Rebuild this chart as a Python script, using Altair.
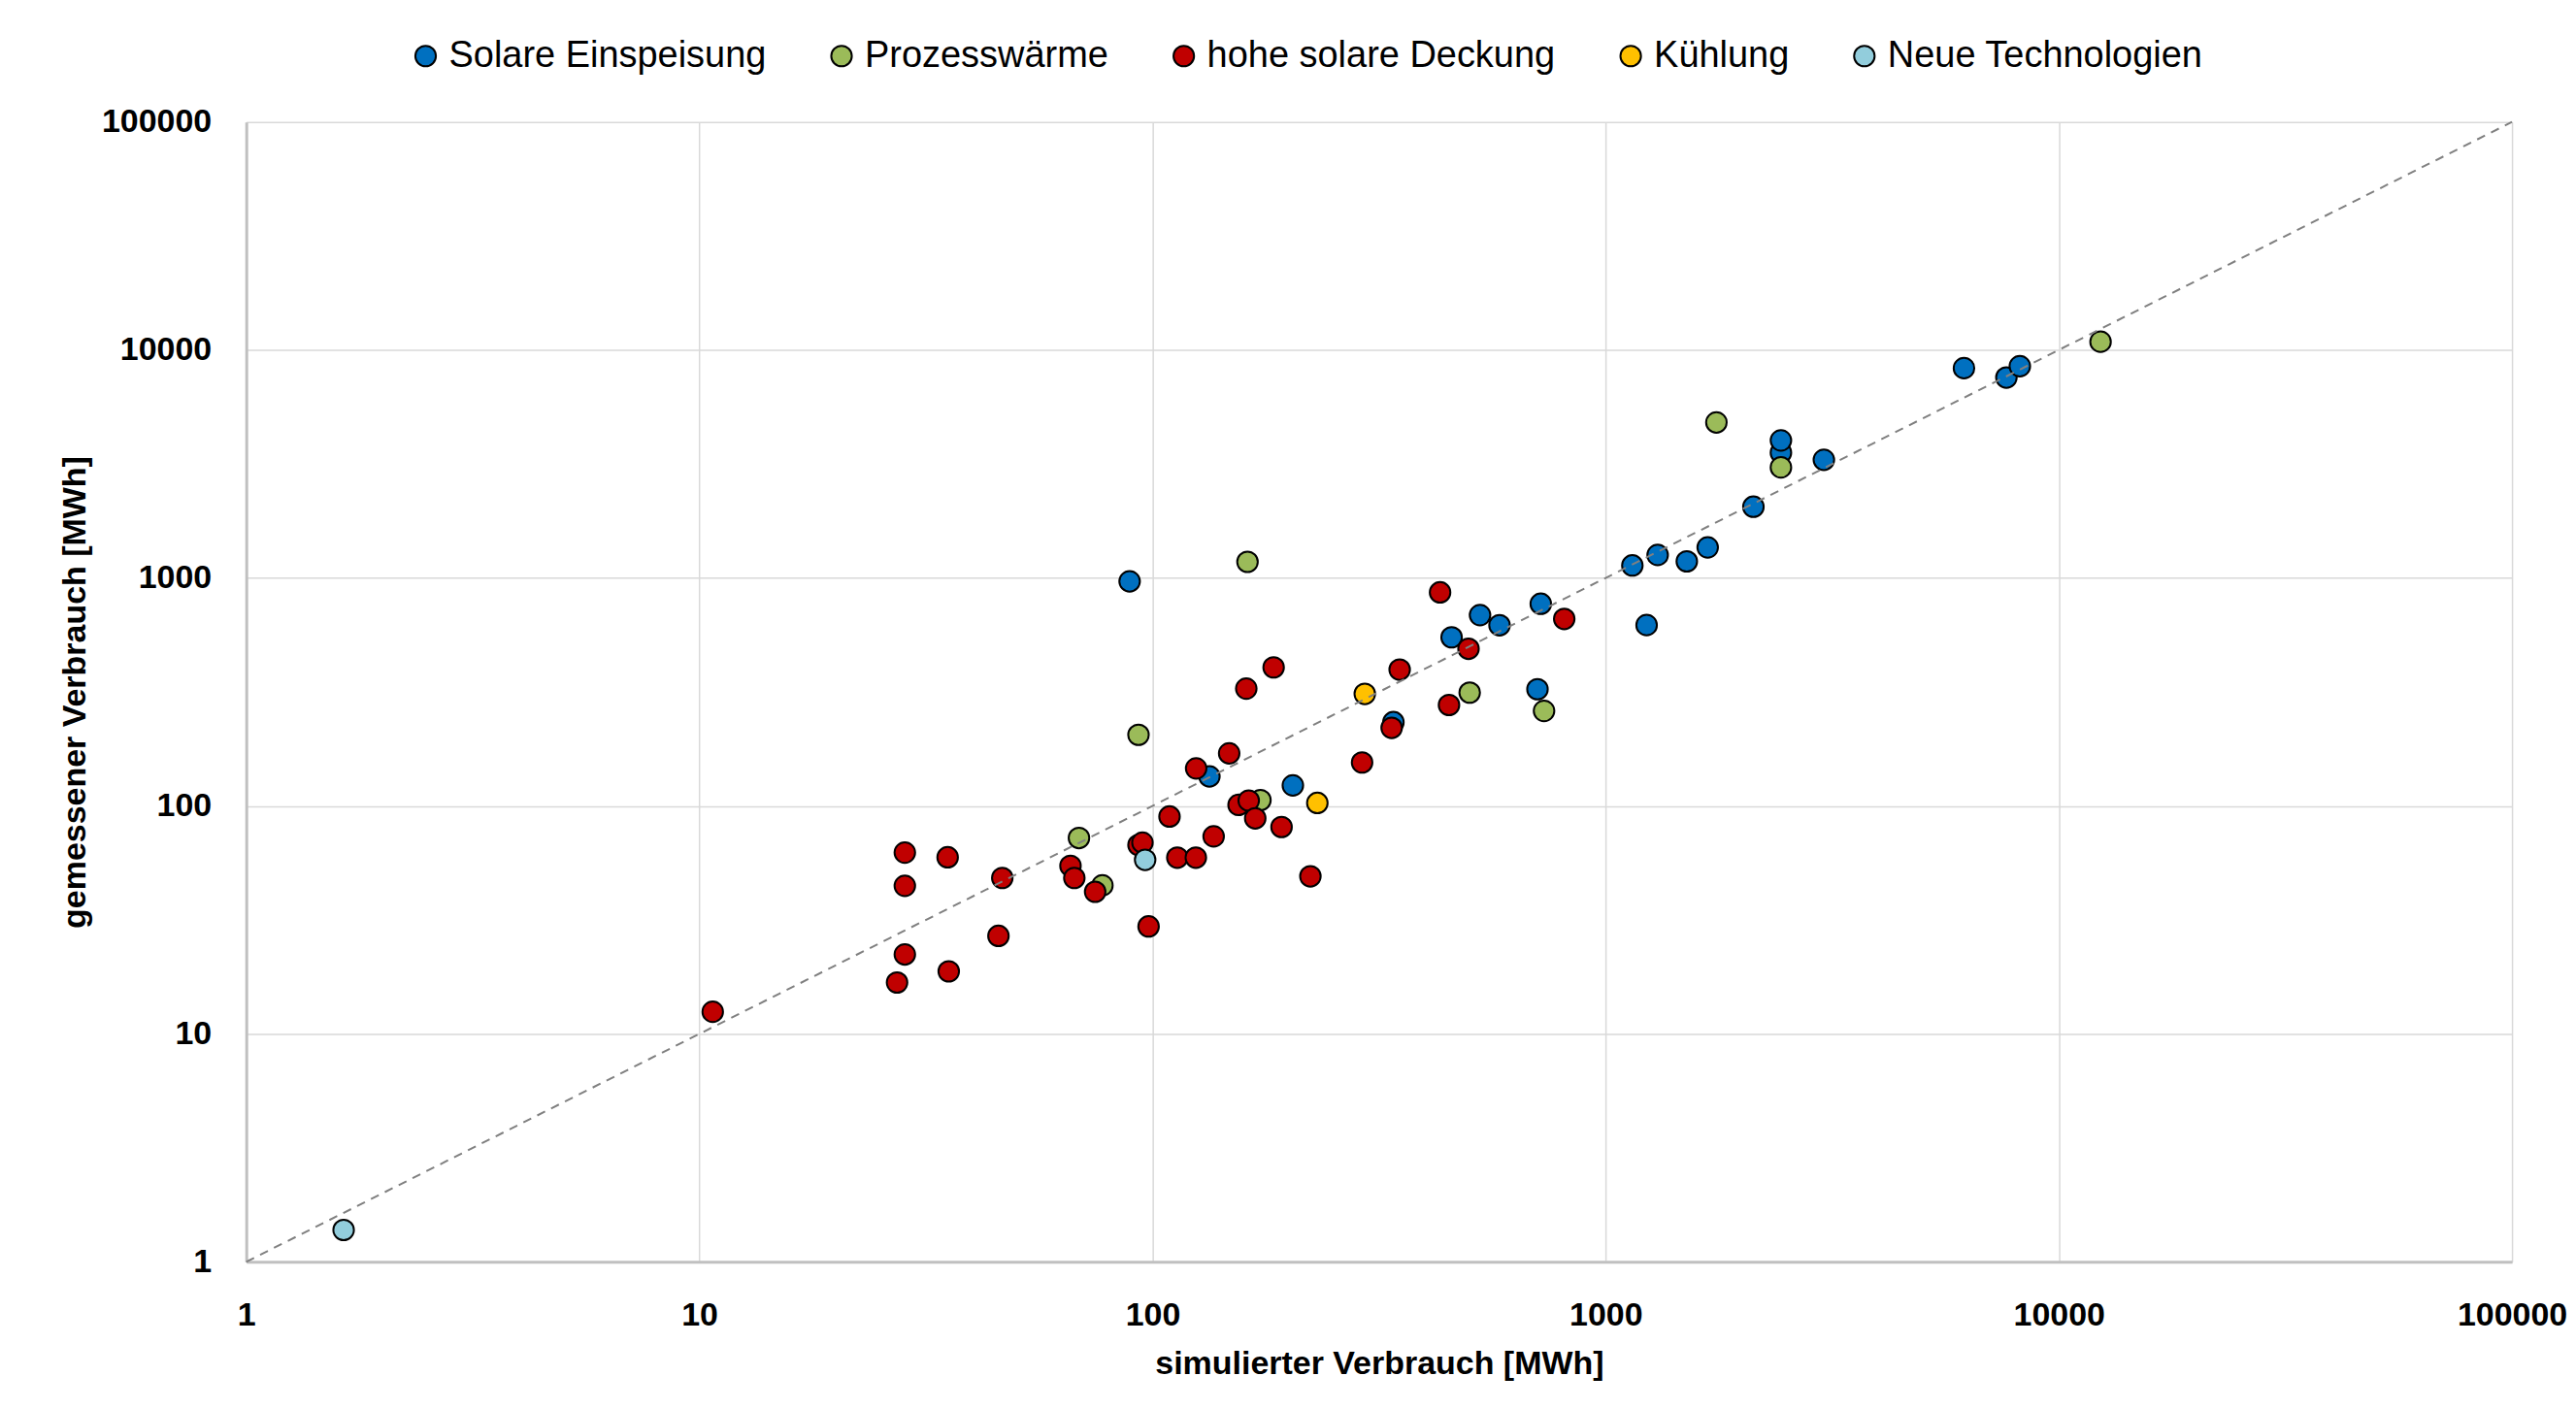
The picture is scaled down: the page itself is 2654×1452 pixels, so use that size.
import altair as alt
import pandas as pd

series_names = ["Solare Einspeisung", "Prozesswärme", "hohe solare Deckung", "Kühlung", "Neue Technologien"]
series_colors = ["#0070C0", "#9BBB59", "#C00000", "#FFC000", "#92CDDC"]

# Solare Einspeisung
solar_x = [89, 133.5, 204, 340, 457, 528, 583, 719, 707, 1145, 1231, 1302, 1510, 1679, 2118, 2436, 2436, 3030, 6175, 7660, 8202]
solar_y = [966, 134.7, 123, 233, 549, 687, 620, 770, 325, 1134, 621, 1261, 1182, 1361, 2052, 3540, 4009, 3297, 8318, 7568, 8488]

# Prozesswärme
proc_x = [93.1, 68.8, 77.5, 162, 173, 501, 731, 1755, 2436, 12360]
proc_y = [205, 72.3, 44.8, 1176, 106, 314, 261, 4808, 3054, 10864]

# hohe solare Deckung
high_x = [10.7, 27.3, 28.4, 28.4, 28.4, 35.5, 35.3, 45.7, 46.6, 65.9, 67.2, 74.7, 93.1, 95.0,
          98.0, 109, 113.4, 124.6, 136.4, 124.8, 147.6, 154.8, 163, 168.5, 192.6, 223, 161,
          185, 290, 351, 337, 451, 431, 498, 810]
high_y = [12.5, 16.8, 22.3, 44.6, 62.4, 18.8, 59.5, 26.9, 48.3, 54.6, 48.3, 42.0, 67.4, 69.0,
          29.6, 89.8, 59.3, 59.3, 73.5, 146, 170, 101, 105.5, 88.2, 80.8, 49.1, 327,
          405, 155, 396, 220, 277, 864, 489, 661]

# Kühlung
cool_x = [294, 231]
cool_y = [310, 103]

# Neue Technologien
new_x = [1.64, 96.3]
new_y = [1.38, 58]

diag_vals = [1, 100000]
tick_vals = [1, 10, 100, 1000, 10000, 100000]

rows = []
for name, xs, ys in zip(series_names,
                        [solar_x, proc_x, high_x, cool_x, new_x],
                        [solar_y, proc_y, high_y, cool_y, new_y]):
    for a, b in zip(xs, ys):
        rows.append({"Serie": name, "sim": a, "mes": b})
df = pd.DataFrame(rows)
df["ord"] = range(len(df))

diag = pd.DataFrame({"sim": diag_vals, "mes": diag_vals})

FONT = "Liberation Sans"

xscale = alt.Scale(type="log", domain=[1, 100000], nice=False)
yscale = alt.Scale(type="log", domain=[1, 100000], nice=False)

xaxis = alt.Axis(values=tick_vals, format="d", title="simulierter Verbrauch [MWh]",
                 labelFont=FONT, labelFontSize=34, labelFontWeight="bold", labelColor="black",
                 titleFont=FONT, titleFontSize=34, titleFontWeight="bold", titleColor="black",
                 ticks=False, labelPadding=38, titlePadding=16,
                 grid=True, gridColor="#d9d9d9", gridWidth=1.5,
                 domainColor="#c0c0c0", domainWidth=3, labelFlush=False)
yaxis = alt.Axis(values=tick_vals, format="d", title="gemessener Verbrauch [MWh]",
                 labelFont=FONT, labelFontSize=34, labelFontWeight="bold", labelColor="black",
                 titleFont=FONT, titleFontSize=34, titleFontWeight="bold", titleColor="black",
                 ticks=False, labelPadding=36, titlePadding=10,
                 grid=True, gridColor="#d9d9d9", gridWidth=1.5,
                 domainColor="#c0c0c0", domainWidth=3, labelFlush=False)

points = alt.Chart(df).mark_circle(size=450, opacity=1, stroke="black", strokeWidth=2).encode(
    x=alt.X("sim:Q", scale=xscale, axis=xaxis),
    y=alt.Y("mes:Q", scale=yscale, axis=yaxis),
    color=alt.Color("Serie:N",
                    scale=alt.Scale(domain=series_names, range=series_colors),
                    sort=series_names,
                    legend=alt.Legend(title=None, orient="none", direction="horizontal",
                                      legendX=166, legendY=-87,
                                      labelFont=FONT, labelFontSize=38, labelColor="black",
                                      labelLimit=0,
                                      symbolType="circle", symbolSize=450,
                                      symbolStrokeColor="black", symbolStrokeWidth=2,
                                      symbolOpacity=1, labelOffset=5, columnPadding=58,
                                      padding=0)),
    order=alt.Order("ord:Q"),
)

line = alt.Chart(diag).mark_line(color="#808080", strokeWidth=2, strokeDash=[9, 7]).encode(
    x=alt.X("sim:Q", scale=xscale),
    y=alt.Y("mes:Q", scale=yscale),
)

chart = alt.layer(points, line).properties(
    width=2337, height=1176,
    autosize=alt.AutoSizeParams(type="none"),
    padding={"left": 246, "top": 117, "right": 58, "bottom": 140},
    background="white",
).configure_view(strokeWidth=0)

chart.save("out.html", embed_options={"renderer": "svg", "actions": False})
